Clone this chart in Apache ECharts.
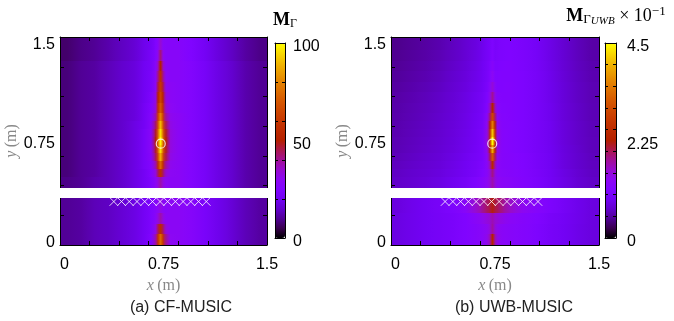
<!DOCTYPE html>
<html>
<head>
<meta charset="utf-8">
<script src="https://cdn.jsdelivr.net/npm/echarts@6/dist/echarts.min.js"></script>
<style>
  html, body { margin: 0; padding: 0; background: #fff; }
  #chart { width: 674px; height: 321px; }
</style>
</head>
<body>
<div id="chart"></div>
<script>
// Cell boundaries of the pseudo-spectrum maps, in metres
const xEdges = [0, 0.1, 0.2, 0.3, 0.4, 0.5, 0.58, 0.64, 0.68, 0.705, 0.72, 0.74, 0.755, 0.78, 0.82, 0.9, 1.0, 1.1, 1.2, 1.3, 1.4, 1.5];
// rows from bottom to top; row 4 is the wall strip (no samples)
const yEdges = [-0.02, 0.06, 0.14, 0.22, 0.34, 0.415, 0.5, 0.56, 0.62, 0.68, 0.74, 0.8, 0.86, 0.92, 0.98, 1.06, 1.14, 1.22, 1.3, 1.38, 1.46, 1.56];
const wallStrip = [0.34, 0.415];

// CF-MUSIC spectrum M_Γ (0..100), one row per y band, bottom to top
const cfMusic = [
  [10, 11, 13, 14, 16, 18, 21, 25, 38, 58, 74, 58, 40, 30, 29, 27, 23, 19, 16, 13, 11],
  [10, 11, 13, 14, 16, 18, 21, 24, 32, 44, 55, 44, 33, 29, 29, 27, 23, 19, 16, 13, 11],
  [10, 11, 13, 14, 16, 18, 21, 24, 28, 33, 38, 33, 29, 29, 29, 27, 23, 19, 16, 13, 11],
  [10, 11, 13, 14, 16, 18, 21, 24, 27, 29, 32, 29, 28, 29, 29, 27, 23, 19, 16, 13, 11],
  null,
  [9, 10, 12, 13, 15, 18, 21, 24, 29, 33, 38, 33, 30, 29, 29, 26, 22, 18, 15, 12, 10],
  [8, 10, 11, 13, 15, 18, 21, 25, 33, 44, 56, 44, 34, 30, 29, 26, 22, 18, 15, 12, 10],
  [8, 10, 11, 13, 15, 18, 22, 26, 38, 56, 74, 56, 39, 31, 29, 26, 22, 18, 15, 12, 10],
  [8, 10, 11, 13, 15, 18, 22, 27, 44, 66, 88, 66, 45, 32, 29, 26, 22, 18, 15, 12, 10],
  [8, 10, 11, 13, 15, 18, 22, 28, 47, 72, 96, 72, 48, 33, 29, 26, 22, 18, 15, 12, 10],
  [8, 10, 11, 13, 15, 18, 22, 28, 49, 74, 100, 74, 50, 33, 29, 26, 22, 18, 15, 12, 10],
  [8, 10, 11, 13, 15, 18, 22, 28, 47, 73, 96, 73, 48, 33, 29, 26, 22, 18, 15, 12, 10],
  [8, 10, 11, 13, 15, 18, 21, 27, 43, 68, 90, 68, 44, 32, 29, 26, 22, 18, 15, 12, 10],
  [8, 10, 11, 13, 15, 17, 21, 26, 38, 62, 80, 62, 39, 31, 29, 26, 22, 18, 15, 12, 10],
  [8, 10, 11, 13, 15, 17, 21, 25, 34, 56, 70, 56, 35, 30, 28, 26, 22, 18, 15, 12, 10],
  [8, 10, 11, 13, 15, 17, 20, 24, 32, 51, 64, 51, 33, 29, 28, 26, 22, 18, 15, 12, 10],
  [8, 10, 11, 13, 15, 17, 20, 23, 30, 46, 60, 46, 31, 29, 28, 26, 22, 18, 15, 12, 10],
  [8, 10, 11, 13, 15, 17, 20, 23, 29, 41, 56, 41, 30, 28, 28, 26, 22, 18, 15, 12, 10],
  [8, 10, 11, 13, 15, 17, 20, 22, 28, 36, 50, 36, 29, 28, 28, 26, 22, 18, 15, 12, 10],
  [7, 9, 10, 12, 14, 16, 19, 22, 26, 31, 42, 31, 28, 28, 28, 25, 21, 17, 14, 11, 9],
  [7, 9, 10, 12, 14, 16, 19, 21, 25, 28, 34, 28, 27, 27, 27, 25, 21, 17, 14, 11, 9]
];

// UWB-MUSIC spectrum M_ΓUWB ×10^-1 (0..4.5), bottom to top
const uwbMusic = [
  [0.8, 0.86, 0.92, 0.98, 1.05, 1.12, 1.2, 1.28, 1.4, 1.7, 2.3, 1.7, 1.42, 1.3, 1.24, 1.18, 1.1, 1.0, 0.92, 0.84, 0.78],
  [0.8, 0.86, 0.92, 0.98, 1.05, 1.12, 1.2, 1.28, 1.36, 1.5, 1.75, 1.5, 1.38, 1.3, 1.24, 1.18, 1.1, 1.0, 0.92, 0.84, 0.78],
  [0.8, 0.86, 0.92, 0.98, 1.05, 1.12, 1.26, 1.38, 1.48, 1.56, 1.68, 1.56, 1.5, 1.42, 1.3, 1.2, 1.12, 1.02, 0.93, 0.85, 0.78],
  [0.78, 0.85, 0.92, 1.0, 1.08, 1.25, 1.55, 1.8, 1.96, 2.08, 2.2, 2.08, 2.0, 1.86, 1.6, 1.36, 1.2, 1.08, 0.96, 0.86, 0.78],
  null,
  [0.66, 0.7, 0.75, 0.8, 0.88, 0.98, 1.1, 1.22, 1.34, 1.5, 1.7, 1.5, 1.36, 1.3, 1.24, 1.16, 1.06, 0.94, 0.82, 0.72, 0.65],
  [0.64, 0.68, 0.72, 0.77, 0.84, 0.92, 1.02, 1.12, 1.26, 1.5, 1.85, 1.5, 1.3, 1.24, 1.2, 1.14, 1.04, 0.92, 0.8, 0.7, 0.63],
  [0.62, 0.66, 0.7, 0.75, 0.82, 0.9, 0.99, 1.08, 1.28, 1.7, 2.4, 1.7, 1.32, 1.22, 1.18, 1.12, 1.02, 0.9, 0.78, 0.68, 0.62],
  [0.6, 0.64, 0.68, 0.73, 0.8, 0.88, 0.97, 1.06, 1.32, 2.0, 3.1, 2.0, 1.38, 1.22, 1.18, 1.12, 1.02, 0.9, 0.78, 0.68, 0.61],
  [0.58, 0.62, 0.66, 0.71, 0.78, 0.86, 0.95, 1.05, 1.4, 2.3, 3.9, 2.3, 1.45, 1.22, 1.17, 1.1, 1.0, 0.89, 0.77, 0.67, 0.6],
  [0.57, 0.61, 0.65, 0.7, 0.77, 0.85, 0.94, 1.05, 1.45, 2.5, 4.5, 2.5, 1.5, 1.22, 1.17, 1.1, 1.0, 0.88, 0.76, 0.66, 0.6],
  [0.56, 0.6, 0.64, 0.69, 0.76, 0.84, 0.93, 1.04, 1.42, 2.45, 4.1, 2.45, 1.48, 1.22, 1.17, 1.1, 1.0, 0.88, 0.76, 0.66, 0.59],
  [0.55, 0.59, 0.63, 0.68, 0.75, 0.83, 0.92, 1.02, 1.35, 2.25, 3.5, 2.25, 1.4, 1.2, 1.17, 1.1, 1.0, 0.88, 0.76, 0.66, 0.59],
  [0.54, 0.58, 0.62, 0.67, 0.74, 0.82, 0.9, 1.0, 1.25, 1.95, 2.9, 1.95, 1.32, 1.18, 1.16, 1.1, 1.0, 0.87, 0.75, 0.65, 0.58],
  [0.53, 0.57, 0.61, 0.66, 0.73, 0.81, 0.89, 0.98, 1.15, 1.65, 2.3, 1.65, 1.25, 1.17, 1.16, 1.1, 1.0, 0.87, 0.75, 0.65, 0.58],
  [0.52, 0.56, 0.6, 0.65, 0.72, 0.8, 0.88, 0.96, 1.1, 1.4, 1.8, 1.4, 1.2, 1.16, 1.16, 1.1, 1.0, 0.86, 0.74, 0.64, 0.57],
  [0.5, 0.54, 0.58, 0.63, 0.7, 0.78, 0.86, 0.94, 1.05, 1.25, 1.5, 1.25, 1.15, 1.15, 1.16, 1.1, 1.0, 0.86, 0.74, 0.64, 0.57],
  [0.48, 0.52, 0.56, 0.61, 0.68, 0.76, 0.84, 0.92, 1.02, 1.15, 1.32, 1.15, 1.12, 1.14, 1.15, 1.1, 1.0, 0.85, 0.73, 0.63, 0.56],
  [0.46, 0.5, 0.54, 0.59, 0.66, 0.74, 0.82, 0.9, 1.0, 1.1, 1.22, 1.1, 1.1, 1.12, 1.14, 1.08, 0.98, 0.84, 0.72, 0.62, 0.55],
  [0.44, 0.48, 0.52, 0.57, 0.64, 0.72, 0.8, 0.88, 0.97, 1.05, 1.15, 1.05, 1.07, 1.1, 1.12, 1.07, 0.97, 0.83, 0.71, 0.61, 0.53],
  [0.42, 0.46, 0.5, 0.55, 0.62, 0.7, 0.78, 0.86, 0.95, 1.02, 1.1, 1.02, 1.05, 1.08, 1.1, 1.05, 0.95, 0.82, 0.7, 0.6, 0.52]
];

// Antenna array elements and the target position
const antennaX = [0.39, 0.446, 0.502, 0.558, 0.614, 0.67, 0.725, 0.78, 0.836, 0.892, 0.948, 1.004, 1.06];
const antennaY = 0.31;
const target = [0.73, 0.75];

// Axis labels and ticks
const xTickLabels = [0, 0.75, 1.5];
const yTickLabels = [0, 0.75, 1.5];
const xMinorTicks = [0.214, 0.429, 0.643, 0.857, 1.071, 1.286];
const yMinorTicks = [0.206, 0.431, 0.657, 0.883, 1.109, 1.334];
const cfBarLabels = [0, 50, 100];
const cfBarTicks = [20, 40, 60, 80];
const uwbBarLabels = [0, 2.25, 4.5];
const uwbBarTicks = [0.5, 1, 1.5, 2, 2.5, 3, 3.5, 4];

// pm3d-style colour palette: black -> violet -> red -> orange -> yellow
const palette = ['#000000', '#39004f', '#510096', '#6301ce', '#7202f3', '#8004ff', '#8c07f3', '#970bce',
  '#a11096', '#ab174f', '#b42000', '#bd2a00', '#c63700', '#ce4600', '#d55700', '#dd6c00',
  '#e48300', '#eb9d00', '#f2ba00', '#f9db00', '#ffff00'];

const labelFont = 'Liberation Sans, Arial, sans-serif';
const mathFont = 'Liberation Serif, DejaVu Serif, serif';
const nCols = xEdges.length - 1;

// one record per cell: [x0, x1, y0, y1, value, column]
function toCells(matrix) {
  const out = [];
  matrix.forEach((row, r) => {
    if (!row) return;
    row.forEach((v, c) => out.push([xEdges[c], xEdges[c + 1], yEdges[r], yEdges[r + 1], v, c]));
  });
  return out;
}

// Cells snap to whole pixels; each one shades across towards its row neighbours
function renderCell(params, api) {
  const p0 = api.coord([api.value(0), api.value(3)]);
  const p1 = api.coord([api.value(1), api.value(2)]);
  const x0 = Math.round(p0[0]), x1 = Math.round(p1[0]);
  const y0 = Math.round(p0[1]), y1 = Math.round(p1[1]);
  const i = params.dataIndexInside;
  const col = api.value(5);
  const self = api.visual('color');
  const left = col > 0 ? api.visual('color', i - 1) : self;
  const right = col < nCols - 1 ? api.visual('color', i + 1) : self;
  const fill = new echarts.graphic.LinearGradient(0, 0, 1, 0, [
    { offset: 0, color: echarts.color.lerp(0.5, [left, self]) },
    { offset: 0.5, color: self },
    { offset: 1, color: echarts.color.lerp(0.5, [self, right]) }
  ]);
  return {
    type: 'rect',
    shape: { x: x0, y: y0, width: x1 - x0, height: y1 - y0 },
    style: { fill: fill },
    silent: true
  };
}

function renderStrip(params, api) {
  const a = api.coord([0, api.value(1)]);
  const b = api.coord([1.5, api.value(0)]);
  return {
    type: 'rect',
    shape: { x: a[0] - 1.5, y: Math.round(a[1]), width: b[0] - a[0] + 3, height: Math.round(b[1]) - Math.round(a[1]) },
    style: { fill: '#ffffff' },
    silent: true
  };
}

const blackLine = { show: true, onZero: false, lineStyle: { color: '#000', width: 1 } };
const axisNameRich = {
  i: { fontFamily: mathFont, fontStyle: 'italic', fontSize: 16, color: '#888' },
  r: { fontFamily: mathFont, fontSize: 16, color: '#888' }
};

function mapAxes(grid) {
  const xs = [
    {
      gridIndex: grid, type: 'value', min: 0, max: 1.5, position: 'bottom', z: 5,
      axisLine: blackLine,
      axisTick: { show: true, inside: true, length: 4, customValues: xMinorTicks, lineStyle: { color: '#000' } },
      axisLabel: {
        show: true, customValues: xTickLabels, color: '#000', fontSize: 16, fontFamily: labelFont, margin: 12,
        alignMinLabel: 'left', alignMaxLabel: 'center'
      },
      splitLine: { show: false },
      name: '{i|x} {r|(m)}', nameLocation: 'middle', nameGap: 31,
      nameTextStyle: { rich: axisNameRich }
    },
    {
      gridIndex: grid, type: 'value', min: 0, max: 1.5, position: 'top', z: 5,
      axisLine: blackLine,
      axisTick: { show: true, inside: true, length: 4, customValues: xMinorTicks, lineStyle: { color: '#000' } },
      axisLabel: { show: false }, splitLine: { show: false }
    }
  ];
  const ys = [
    {
      gridIndex: grid, type: 'value', min: -0.02, max: 1.56, position: 'left', z: 5,
      axisLine: blackLine,
      axisTick: { show: true, inside: true, length: 4, customValues: yMinorTicks, lineStyle: { color: '#000' } },
      axisLabel: { show: true, customValues: yTickLabels, color: '#000', fontSize: 16, fontFamily: labelFont, margin: 5 },
      splitLine: { show: false },
      name: '{i|y} {r|(m)}', nameLocation: 'middle', nameGap: 31,
      nameTextStyle: { rich: axisNameRich }
    },
    {
      gridIndex: grid, type: 'value', min: -0.02, max: 1.56, position: 'right', z: 5,
      axisLine: blackLine,
      axisTick: { show: true, inside: true, length: 4, customValues: yMinorTicks, lineStyle: { color: '#000' } },
      axisLabel: { show: false }, splitLine: { show: false }
    }
  ];
  return { xs, ys };
}

function barAxes(grid, max, labels, ticks, margin) {
  const xs = ['bottom', 'top'].map(pos => ({
    gridIndex: grid, type: 'value', min: 0, max: 1, position: pos, z: 6,
    axisLine: blackLine, axisTick: { show: false }, axisLabel: { show: false }, splitLine: { show: false }
  }));
  const ys = [
    {
      gridIndex: grid, type: 'value', min: 0, max: max, position: 'left', z: 6,
      axisLine: blackLine,
      axisTick: { show: true, inside: true, length: 3, customValues: ticks, lineStyle: { color: '#000' } },
      axisLabel: { show: false }, splitLine: { show: false }
    },
    {
      gridIndex: grid, type: 'value', min: 0, max: max, position: 'right', z: 6,
      axisLine: blackLine,
      axisTick: { show: true, inside: true, length: 3, customValues: ticks, lineStyle: { color: '#000' } },
      axisLabel: {
        show: true, customValues: labels, color: '#000', fontSize: 16, fontFamily: labelFont, margin: margin,
        formatter: v => '{v|' + v + '}',
        rich: { v: { fontSize: 16, fontFamily: labelFont, color: '#000', padding: [8, 0, 0, 0] } }
      },
      splitLine: { show: false }
    }
  ];
  return { xs, ys };
}

const leftMap = mapAxes(0);
const leftBar = barAxes(1, 100, cfBarLabels, cfBarTicks, 8);
const rightMap = mapAxes(2);
const rightBar = barAxes(3, 4.5, uwbBarLabels, uwbBarTicks, 11);

function markerSeries(xi, yi) {
  return [
    {
      type: 'scatter', xAxisIndex: xi, yAxisIndex: yi, z: 7,
      data: antennaX.map(x => [x, antennaY]),
      symbol: 'path://M0,0L10,10M10,0L0,10', symbolSize: 8.5,
      itemStyle: { color: 'none', borderColor: '#ffffff', borderWidth: 1 },
      silent: true
    },
    {
      type: 'scatter', xAxisIndex: xi, yAxisIndex: yi, z: 7,
      data: [target],
      symbol: 'circle', symbolSize: 9,
      itemStyle: { color: 'none', borderColor: '#ffffff', borderWidth: 1.2 },
      silent: true
    },
    {
      type: 'custom', xAxisIndex: xi, yAxisIndex: yi, z: 6,
      renderItem: renderStrip, data: [wallStrip], silent: true
    }
  ];
}

const option = {
  animation: false,
  backgroundColor: '#ffffff',
  grid: [
    { left: 60, top: 37, width: 207, height: 208, outerBoundsMode: 'none' },
    { left: 275, top: 43, width: 10, height: 195, outerBoundsMode: 'none' },
    { left: 391, top: 37, width: 208, height: 208, outerBoundsMode: 'none' },
    { left: 605, top: 43, width: 11, height: 195, outerBoundsMode: 'none' }
  ],
  xAxis: [...leftMap.xs, ...leftBar.xs, ...rightMap.xs, ...rightBar.xs],
  yAxis: [...leftMap.ys, ...leftBar.ys, ...rightMap.ys, ...rightBar.ys],
  visualMap: [
    {
      type: 'continuous', seriesIndex: 0, dimension: 4, min: 0, max: 100,
      show: true, calculable: false, orient: 'vertical', left: 275, top: 43, padding: 0,
      itemWidth: 10, itemHeight: 195, inRange: { color: palette }, hoverLink: false
    },
    {
      type: 'continuous', seriesIndex: 1, dimension: 4, min: 0, max: 4.5,
      show: true, calculable: false, orient: 'vertical', left: 605, top: 43, padding: 0,
      itemWidth: 11, itemHeight: 195, inRange: { color: palette }, hoverLink: false
    }
  ],
  series: [
    {
      name: 'CF-MUSIC', type: 'custom', xAxisIndex: 0, yAxisIndex: 0, z: 2, clip: true,
      renderItem: renderCell, encode: { x: [0, 1], y: [2, 3] }, data: toCells(cfMusic)
    },
    {
      name: 'UWB-MUSIC', type: 'custom', xAxisIndex: 4, yAxisIndex: 4, z: 2, clip: true,
      renderItem: renderCell, encode: { x: [0, 1], y: [2, 3] }, data: toCells(uwbMusic)
    },
    ...markerSeries(0, 0),
    ...markerSeries(4, 4)
  ],
  graphic: [
    {
      type: 'text', x: 285, y: 20,
      style: {
        text: '{m|M}{s|Γ}', textAlign: 'center', textVerticalAlign: 'middle',
        rich: {
          m: { fontFamily: mathFont, fontWeight: 'bold', fontSize: 18, color: '#333', lineHeight: 20 },
          s: { fontFamily: mathFont, fontSize: 12, color: '#333', lineHeight: 14, padding: [7, 0, 0, 0] }
        }
      }
    },
    {
      type: 'text', x: 616, y: 16,
      style: {
        text: '{m|M}{s|Γ}{ss|UWB}{t| × 10}{p|−1}', textAlign: 'center', textVerticalAlign: 'middle',
        rich: {
          m: { fontFamily: mathFont, fontWeight: 'bold', fontSize: 18, color: '#444', lineHeight: 20 },
          s: { fontFamily: mathFont, fontSize: 13, color: '#444', padding: [7, 0, 0, 0], lineHeight: 14 },
          ss: { fontFamily: mathFont, fontStyle: 'italic', fontSize: 11, color: '#444', padding: [11, 0, 0, 0], lineHeight: 12 },
          t: { fontFamily: mathFont, fontSize: 18, color: '#444', lineHeight: 20 },
          p: { fontFamily: mathFont, fontSize: 13, color: '#444', padding: [0, 0, 9, 0], lineHeight: 14 }
        }
      }
    },
    {
      type: 'text', x: 181, y: 308,
      style: { text: '(a) CF-MUSIC', fontFamily: labelFont, fontSize: 16, fill: '#222', textAlign: 'center', textVerticalAlign: 'middle' }
    },
    {
      type: 'text', x: 514, y: 308,
      style: { text: '(b) UWB-MUSIC', fontFamily: labelFont, fontSize: 16, fill: '#222', textAlign: 'center', textVerticalAlign: 'middle' }
    }
  ]
};

const chart = echarts.init(document.getElementById('chart'), null, { renderer: 'canvas' });
chart.setOption(option);
</script>
</body>
</html>
